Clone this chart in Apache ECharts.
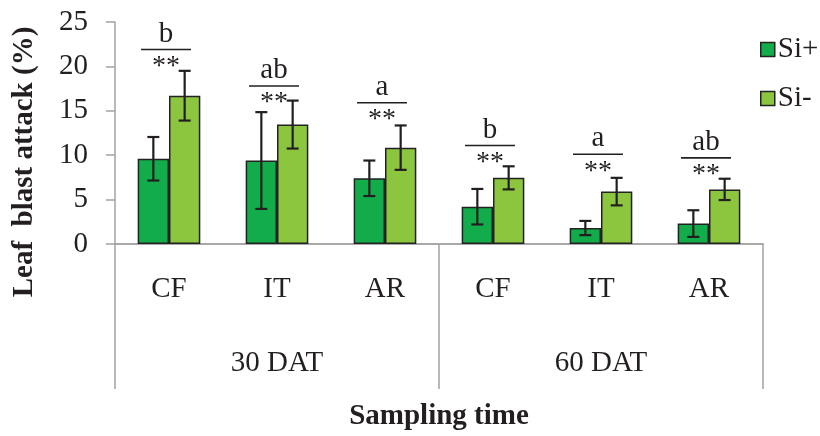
<!DOCTYPE html>
<html>
<head>
<meta charset="utf-8">
<script src="https://cdn.jsdelivr.net/npm/echarts@6/dist/echarts.min.js"></script>
<style>html,body{margin:0;padding:0;background:#fff;}#c{width:820px;height:436px;}</style>
</head>
<body>
<div id="c"></div>
<script>
const categories = ['CF', 'IT', 'AR', 'CF', 'IT', 'AR'];
const groups = ['30 DAT', '60 DAT'];
const seriesNames = ['Si+', 'Si-'];
const siPlus = [9.6, 9.4, 7.4, 4.2, 1.8, 2.3];
const siPlusErr = [2.45, 5.45, 2.0, 2.0, 0.8, 1.5];
const siMinus = [16.7, 13.45, 10.85, 7.45, 5.9, 6.15];
const siMinusErr = [2.8, 2.7, 2.5, 1.3, 1.55, 1.2];
const letters = ['b', 'ab', 'a', 'b', 'a', 'ab'];
const stars = ['**', '**', '**', '**', '**', '**'];
const lineLevels = [21.9, 17.8, 15.9, 11.1, 10.1, 9.7];
const yTicks = [0, 5, 10, 15, 20, 25];
const yTitle = 'Leaf  blast attack (%)';
const xTitle = 'Sampling time';

const TXT = '#231f20';
const AX = '#a3a3a3';
const SERIF = "'Liberation Serif', 'DejaVu Serif', serif";
const BAR_FRAC = 0.29;

function errRender(sign) {
  return function (params, api) {
    const i = api.value(0), v = api.value(1), e = api.value(2);
    const c = api.coord([i, v]);
    const bw = api.size([1, 0])[0] * BAR_FRAC;
    const x = c[0] + sign * bw / 2;
    const top = api.coord([i, v + e])[1];
    const bot = api.coord([i, v - e])[1];
    const cap = 6;
    const st = { stroke: TXT, lineWidth: 2.2 };
    return {
      type: 'group',
      children: [
        { type: 'line', shape: { x1: x, y1: top, x2: x, y2: bot }, style: st },
        { type: 'line', shape: { x1: x - cap, y1: top, x2: x + cap, y2: top }, style: st },
        { type: 'line', shape: { x1: x - cap, y1: bot, x2: x + cap, y2: bot }, style: st }
      ]
    };
  };
}

const chart = echarts.init(document.getElementById('c'));
chart.setOption({
  animation: false,
  backgroundColor: '#fff',
  grid: { left: 115, right: 57, top: 22, bottom: 189 },
  graphic: [
    {
      type: 'text', x: 25, y: 162, rotation: Math.PI / 2,
      style: { text: yTitle, font: "bold 29px " + SERIF, fill: TXT, textAlign: 'center', textVerticalAlign: 'middle' }
    }
  ],
  legend: {
    orient: 'vertical', left: 755, top: 30,
    itemWidth: 14, itemHeight: 14, itemGap: 20,
    icon: 'rect',
    itemStyle: { borderColor: '#222', borderWidth: 1.5 },
    textStyle: { fontFamily: SERIF, fontSize: 29, color: TXT, lineHeight: 28, padding: [0, 0, 0, -2] },
    data: seriesNames
  },
  xAxis: [
    {
      type: 'category', data: categories,
      axisLine: { show: true, lineStyle: { color: AX, width: 1.5 } },
      axisTick: { show: false },
      axisLabel: { interval: 0, margin: 31, fontFamily: SERIF, fontSize: 29, color: TXT }
    },
    {
      type: 'category', data: groups, position: 'bottom',
      axisLine: { show: true, lineStyle: { color: AX, width: 1.5 } },
      axisTick: { show: true, length: 145, interval: 0, lineStyle: { color: AX, width: 1.5 } },
      axisLabel: { interval: 0, margin: 105, fontFamily: SERIF, fontSize: 29, color: TXT },
      name: xTitle, nameLocation: 'middle', nameGap: 158,
      nameTextStyle: { fontFamily: SERIF, fontSize: 29, fontWeight: 'bold', color: TXT }
    }
  ],
  yAxis: {
    type: 'value', min: yTicks[0], max: yTicks[yTicks.length - 1], interval: 5,
    axisLine: { show: true, lineStyle: { color: AX, width: 1.5 } },
    axisTick: { show: true, length: 9, inside: false, lineStyle: { color: AX, width: 1.5 } },
    splitLine: { show: false },
    axisLabel: { margin: 27, fontFamily: SERIF, fontSize: 29, color: TXT }
  },
  series: [
    {
      name: seriesNames[0], type: 'bar', data: siPlus, barWidth: (BAR_FRAC * 100) + '%', barGap: '0%',
      itemStyle: { color: '#13ac4a', borderColor: '#222', borderWidth: 1.5 }
    },
    {
      name: seriesNames[1], type: 'bar', data: siMinus, barWidth: (BAR_FRAC * 100) + '%', barGap: '0%',
      itemStyle: { color: '#8cc63f', borderColor: '#222', borderWidth: 1.5 }
    },
    {
      type: 'custom', renderItem: errRender(-1), z: 5,
      data: siPlus.map((v, i) => [i, v, siPlusErr[i]]), encode: { x: 0, y: 1 }
    },
    {
      type: 'custom', renderItem: errRender(1), z: 5,
      data: siMinus.map((v, i) => [i, v, siMinusErr[i]]), encode: { x: 0, y: 1 }
    },
    {
      type: 'custom', z: 6,
      data: lineLevels.map((v, i) => [i, v]), encode: { x: 0, y: 1 },
      renderItem: function (params, api) {
        const i = api.value(0), v = api.value(1);
        const c = api.coord([i, v]);
        const cx = c[0] - 3, y = c[1];
        return {
          type: 'group',
          children: [
            { type: 'line', shape: { x1: cx - 25, y1: y, x2: cx + 25, y2: y }, style: { stroke: TXT, lineWidth: 1.6 } },
            { type: 'text', style: { text: letters[i], x: cx, y: y - 1, textAlign: 'center', textVerticalAlign: 'bottom', font: "29px " + SERIF, fill: TXT } },
            { type: 'text', style: { text: stars[i], x: cx, y: y + 3, textAlign: 'center', textVerticalAlign: 'top', font: "28px " + SERIF, fill: TXT } }
          ]
        };
      }
    }
  ]
});
</script>
</body>
</html>
